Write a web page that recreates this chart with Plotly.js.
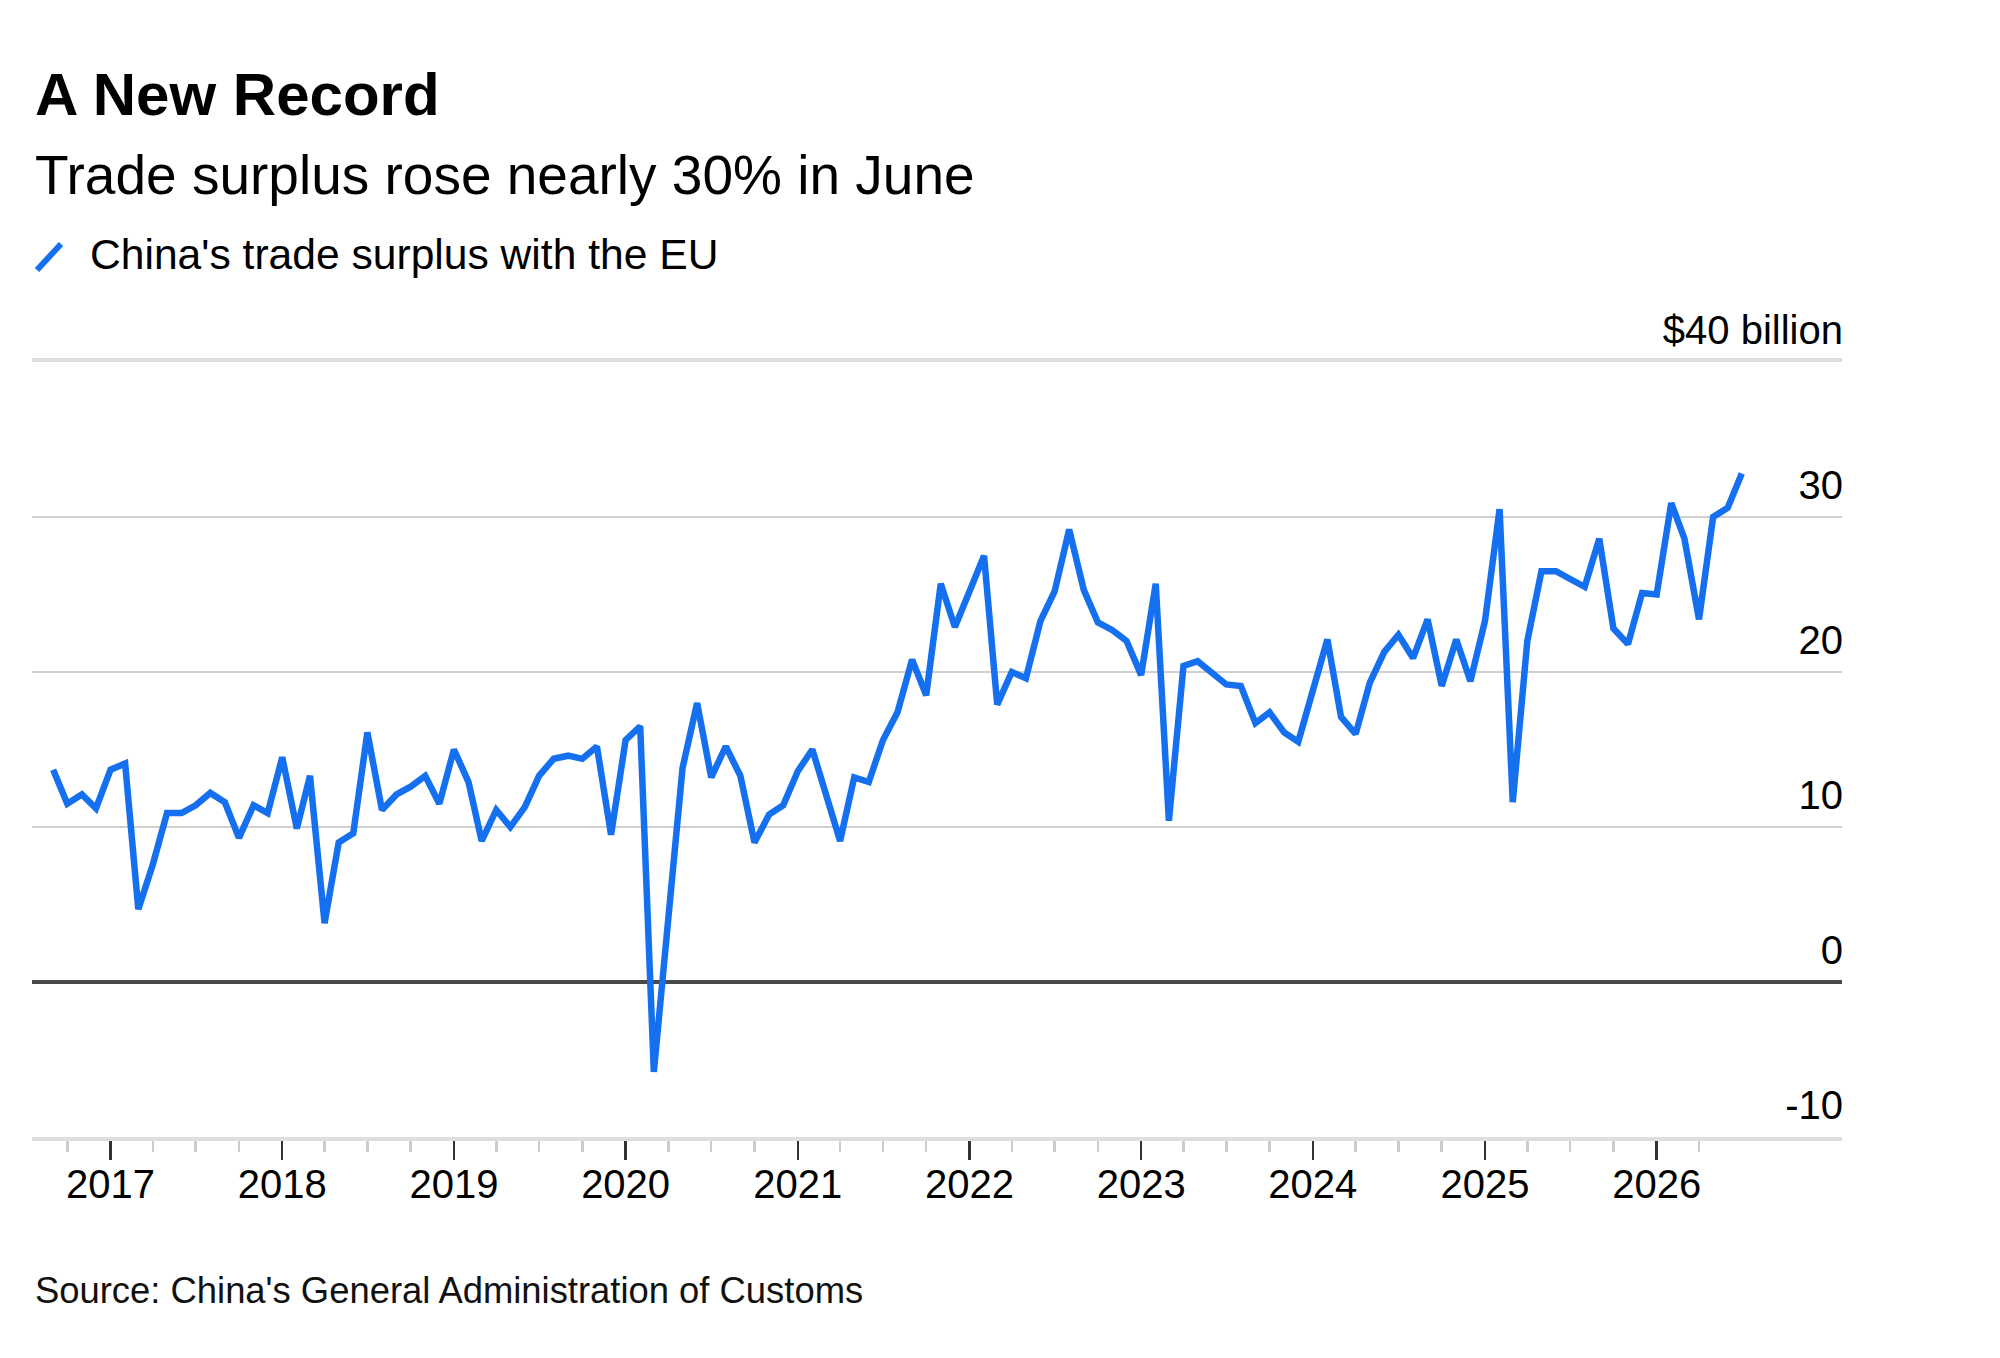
<!DOCTYPE html>
<html>
<head>
<meta charset="utf-8">
<script src="https://cdn.plot.ly/plotly-3.0.1.min.js"></script>
<style>
  html, body { margin: 0; padding: 0; background: #fff; }
  #chart { width: 2000px; height: 1358px; }
</style>
</head>
<body>
<div id="chart"></div>
<script>
// China's monthly trade surplus with the EU, $ billion
var startYear = 2016;
var startMonth = 8;   // first reading is August 2016
var surplus2016 = [13.7, 11.5, 12.1, 11.2, 13.7];
var surplus2017 = [14.1, 4.7, 7.6, 10.9, 10.9, 11.4, 12.2, 11.6, 9.3, 11.4, 10.9, 14.5];
var surplus2018 = [9.9, 13.3, 3.8, 9.0, 9.6, 16.1, 11.1, 12.1, 12.6, 13.3, 11.5, 15.0];
var surplus2019 = [12.9, 9.1, 11.1, 10.0, 11.3, 13.3, 14.4, 14.6, 14.4, 15.2, 9.5, 15.6];
var surplus2020 = [16.5, -5.8, 4.5, 13.8, 18.0, 13.2, 15.2, 13.3, 9.0, 10.8, 11.4, 13.6];
var surplus2021 = [15.0, 12.2, 9.1, 13.2, 12.9, 15.6, 17.4, 20.8, 18.5, 25.7, 22.9, 25.2];
var surplus2022 = [27.5, 17.9, 20.0, 19.6, 23.3, 25.2, 29.2, 25.3, 23.2, 22.7, 22.0, 19.8];
var surplus2023 = [25.7, 10.4, 20.4, 20.7, 20.0, 19.2, 19.1, 16.7, 17.4, 16.1, 15.5, 18.8];
var surplus2024 = [22.1, 17.1, 16.0, 19.3, 21.3, 22.4, 20.9, 23.4, 19.1, 22.1, 19.4, 23.3];
var surplus2025 = [30.5, 11.6, 22.0, 26.5, 26.5, 26.0, 25.5, 28.6, 22.8, 21.8, 25.1, 25.0];
var surplus2026 = [30.9, 28.6, 23.4, 30.0, 30.6, 32.8];

var yTicks = [-10, 0, 10, 20, 30, 40];
var yTickText = ['-10', '0', '10', '20', '30', '$40 billion'];
var yearTicks = [2017, 2018, 2019, 2020, 2021, 2022, 2023, 2024, 2025, 2026];

var blue = '#1570ef';

var yearly = [surplus2016, surplus2017, surplus2018, surplus2019, surplus2020, surplus2021,
              surplus2022, surplus2023, surplus2024, surplus2025, surplus2026];

// each month is plotted at its end (start of the following month)
var dates = [], values = [];
yearly.forEach(function (arr, i) {
    var year = startYear + i;
    var m0 = (i === 0) ? startMonth : 1;
    arr.forEach(function (v, j) {
        var d = new Date(Date.UTC(year, m0 + j, 1));
        dates.push(d.toISOString().slice(0, 10));
        values.push(v);
    });
});

var majorTicks = yearTicks.map(function (y) { return y + '-01-01'; });
var minorTicks = [];
for (var y = yearTicks[0] - 1; y <= yearTicks[yearTicks.length - 1]; y++) {
    [4, 7, 10].forEach(function (m) {
        var s = y + '-' + (m < 10 ? '0' : '') + m + '-01';
        if (s >= '2016-10-01' && s <= '2026-04-01') minorTicks.push(s);
    });
}

var trace = {
    type: 'scatter',
    mode: 'lines',
    x: dates,
    y: values,
    line: {color: blue, width: 6.5},
    hoverinfo: 'skip'
};

var font = 'Liberation Sans, Arial, Helvetica, sans-serif';

var layout = {
    width: 2000,
    height: 1358,
    margin: {l: 32, r: 158, t: 362, b: 221, pad: 0},
    paper_bgcolor: '#ffffff',
    plot_bgcolor: '#ffffff',
    font: {family: font, color: '#000000'},
    showlegend: false,
    title: {
        text: 'A New Record',
        font: {family: font, size: 60, weight: 700, color: '#000000'},
        xref: 'container', x: 35 / 2000, xanchor: 'left',
        yref: 'container', y: 1 - 94 / 1358, yanchor: 'middle'
    },
    xaxis: {
        type: 'date',
        range: ['2016-07-18', '2027-01-30'],
        tickmode: 'array',
        tickvals: majorTicks,
        tickformat: '%Y',
        ticks: 'outside',
        ticklen: 19,
        tickwidth: 2.5,
        tickcolor: '#333333',
        tickfont: {size: 40, color: '#000000'},
        ticklabelstandoff: -10,
        minor: {
            tickmode: 'array',
            tickvals: minorTicks,
            ticks: 'outside',
            ticklen: 11,
            tickwidth: 2.5,
            tickcolor: '#cccccc',
            showgrid: false
        },
        showgrid: false,
        zeroline: false,
        showline: true,
        linecolor: '#dedede',
        linewidth: 4,
        mirror: true,
        fixedrange: true
    },
    yaxis: {
        range: [-10, 40],
        tickmode: 'array',
        tickvals: yTicks,
        ticktext: yTickText,
        side: 'right',
        ticklabelposition: 'inside top',
        ticklabeloverflow: 'allow',
        ticklabelshift: -4,
        ticklabelstandoff: -4,
        ticks: '',
        tickfont: {size: 40, color: '#000000'},
        showgrid: true,
        gridcolor: '#d0d0d0',
        gridwidth: 2,
        zeroline: true,
        zerolinecolor: '#4a4a4a',
        zerolinewidth: 3.5,
        showline: false,
        fixedrange: true
    },
    shapes: [{
        type: 'line',
        xref: 'paper', yref: 'paper',
        x0: (37 - 32) / 1810, y0: (1137 - 270) / 775,
        x1: (61 - 32) / 1810, y1: (1137 - 244) / 775,
        line: {color: blue, width: 6}
    }],
    annotations: [
        {
            text: 'Trade surplus rose nearly 30% in June',
            xref: 'paper', yref: 'paper',
            x: (33 - 32) / 1810, y: (1137 - 175) / 775,
            xanchor: 'left', yanchor: 'middle',
            showarrow: false,
            font: {family: font, size: 55, color: '#000000'}
        },
        {
            text: "China's trade surplus with the EU",
            xref: 'paper', yref: 'paper',
            x: (88 - 32) / 1810, y: (1137 - 254) / 775,
            xanchor: 'left', yanchor: 'middle',
            showarrow: false,
            font: {family: font, size: 42.6, color: '#000000'}
        },
        {
            text: "Source: China's General Administration of Customs",
            xref: 'paper', yref: 'paper',
            x: (33 - 32) / 1810, y: (1137 - 1290) / 775,
            xanchor: 'left', yanchor: 'middle',
            showarrow: false,
            font: {family: font, size: 36.4, color: '#111111'}
        }
    ]
};

Plotly.newPlot('chart', [trace], layout, {displayModeBar: false, staticPlot: true});
</script>
</body>
</html>
